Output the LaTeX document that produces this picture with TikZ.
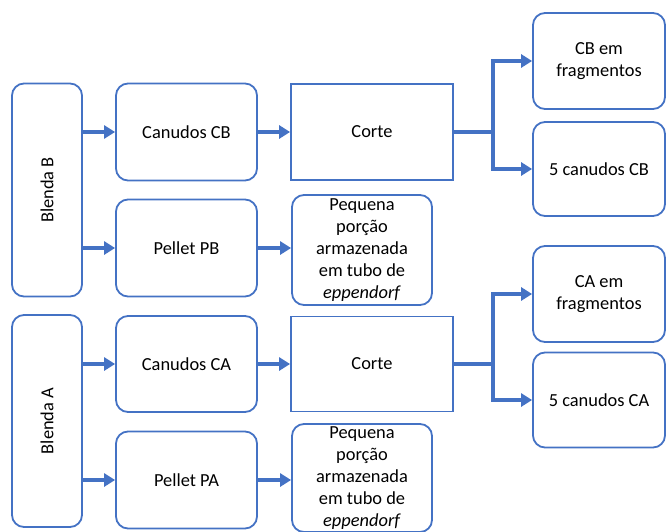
\documentclass[tikz,border=0pt]{standalone}
\usepackage{fontspec}
\setmainfont{Carlito}
\usetikzlibrary{arrows.meta}
\definecolor{azul}{RGB}{68,114,196}
\begin{document}
\begin{tikzpicture}[x=1pt, y=1pt]
    \tikzstyle{rbox} = [shape=rectangle, draw=azul, line width=1.8pt, rounded corners=12pt, align=center, font=\fontsize{18.4}{22}\selectfont]
    \tikzstyle{sbox} = [shape=rectangle, draw=azul, line width=1.8pt, align=center, font=\fontsize{18.4}{22}\selectfont]
    \tikzstyle{seta} = [draw=azul, line width=4pt, -{Triangle[length=11pt,width=13pt]}]
    \tikzstyle{liga} = [draw=azul, line width=4pt]
    \useasboundingbox (0,0) rectangle (666,-532);

    \node (blB) [rbox, minimum width=70pt, minimum height=213pt] at (47,-190) {\rotatebox{90}{Blenda B}};
    \node (blA) [rbox, minimum width=70pt, minimum height=212pt] [below of = blB, node distance=231pt] {\rotatebox{90}{Blenda A}};

    \node (canB) [rbox, minimum width=141pt, minimum height=97pt] at (186.5,-132) {Canudos CB};
    \node (pelB) [rbox, minimum width=141pt, minimum height=97pt] [below of = canB, node distance=116pt] {Pellet PB};
    \node (canA) [rbox, minimum width=141pt, minimum height=96pt] [below of = canB, node distance=232pt] {Canudos CA};
    \node (pelA) [rbox, minimum width=141pt, minimum height=97pt] [below of = canA, node distance=116pt] {Pellet PA};

    \node (corB) [sbox, minimum width=162pt, minimum height=96pt] [right of = canB, node distance=185.5pt] {Corte};
    \node (corA) [sbox, minimum width=162pt, minimum height=95pt] [right of = canA, node distance=185.5pt] {Corte};
    \node (peqB) [rbox, minimum width=140pt, minimum height=110pt, inner sep=1pt] [right of = pelB, node distance=175.5pt, yshift=-2pt] {Pequena\\porção\\armazenada\\em tubo de\\\textit{eppendorf}};
    \node (peqA) [rbox, minimum width=140pt, minimum height=108pt, inner sep=1pt] [right of = pelA, node distance=175.5pt, yshift=2pt] {Pequena\\porção\\armazenada\\em tubo de\\\textit{eppendorf}};

    \node (fragB) [rbox, minimum width=132pt, minimum height=96pt] at (599,-61) {CB em\\fragmentos};
    \node (cinB) [rbox, minimum width=132pt, minimum height=94pt] [below of = fragB, node distance=108pt] {5 canudos CB};
    \node (fragA) [rbox, minimum width=132pt, minimum height=96pt] [below of = fragB, node distance=233pt] {CA em\\fragmentos};
    \node (cinA) [rbox, minimum width=132pt, minimum height=95pt] [below of = fragA, node distance=106pt] {5 canudos CA};

    \coordinate (jB) at ([xshift=39pt]corB.east);
    \coordinate (jA) at ([xshift=39pt]corA.east);

    \draw [seta] (blB.east |- canB) -- (canB.west);
    \draw [seta] (blB.east |- pelB) -- (pelB.west);
    \draw [seta] (blA.east |- canA) -- (canA.west);
    \draw [seta] (blA.east |- pelA) -- (pelA.west);
    \draw [seta] (canB.east) -- (corB.west);
    \draw [seta] (pelB.east) -- (peqB.west |- pelB);
    \draw [seta] (canA.east) -- (corA.west);
    \draw [seta] (pelA.east) -- (peqA.west |- pelA);

    \draw [liga] (corB.east) -- (jB);
    \draw [seta] (jB) |- (fragB.west);
    \draw [seta] (jB) |- (cinB.west);
    \draw [liga] (corA.east) -- (jA);
    \draw [seta] (jA) |- (fragA.west);
    \draw [seta] (jA) |- (cinA.west);
\end{tikzpicture}
\end{document}
